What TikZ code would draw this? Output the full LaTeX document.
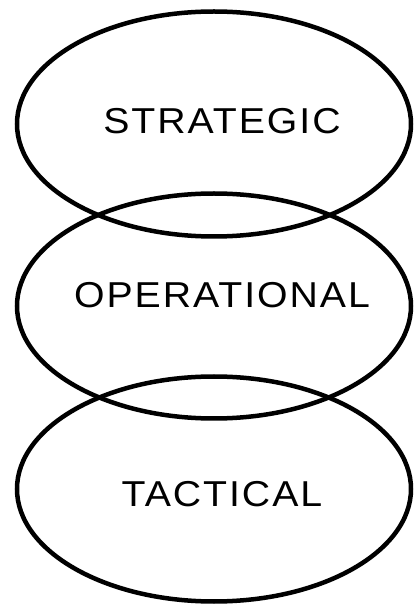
\documentclass[tikz,border=0pt]{standalone}
\usepackage{fontspec}
\setmainfont{Liberation Sans}[LetterSpace=5]
\usetikzlibrary{shapes.geometric}
\begin{document}
\begin{tikzpicture}[x=1pt,y=1pt,
  oval/.style={ellipse, draw=black, line width=4.5pt, minimum width=394pt, minimum height=225pt, inner sep=0pt},
  lbl/.style={font=\fontsize{36}{40}\selectfont, inner sep=0pt, text=black, xscale=1.09}]
\useasboundingbox (0,0) rectangle (415,606);
\node[oval] (e1) at (214,482) {};
\node[oval] (e2) at (214,300) {};
\node[oval] (e3) at (214,117) {};
\node[lbl] (t1) at (222,485) {STRATEGIC};
\node[lbl] (t2) at (222,311) {OPERATIONAL};
\node[lbl] (t3) at (222,111.5) {TACTICAL};
\end{tikzpicture}
\end{document}
